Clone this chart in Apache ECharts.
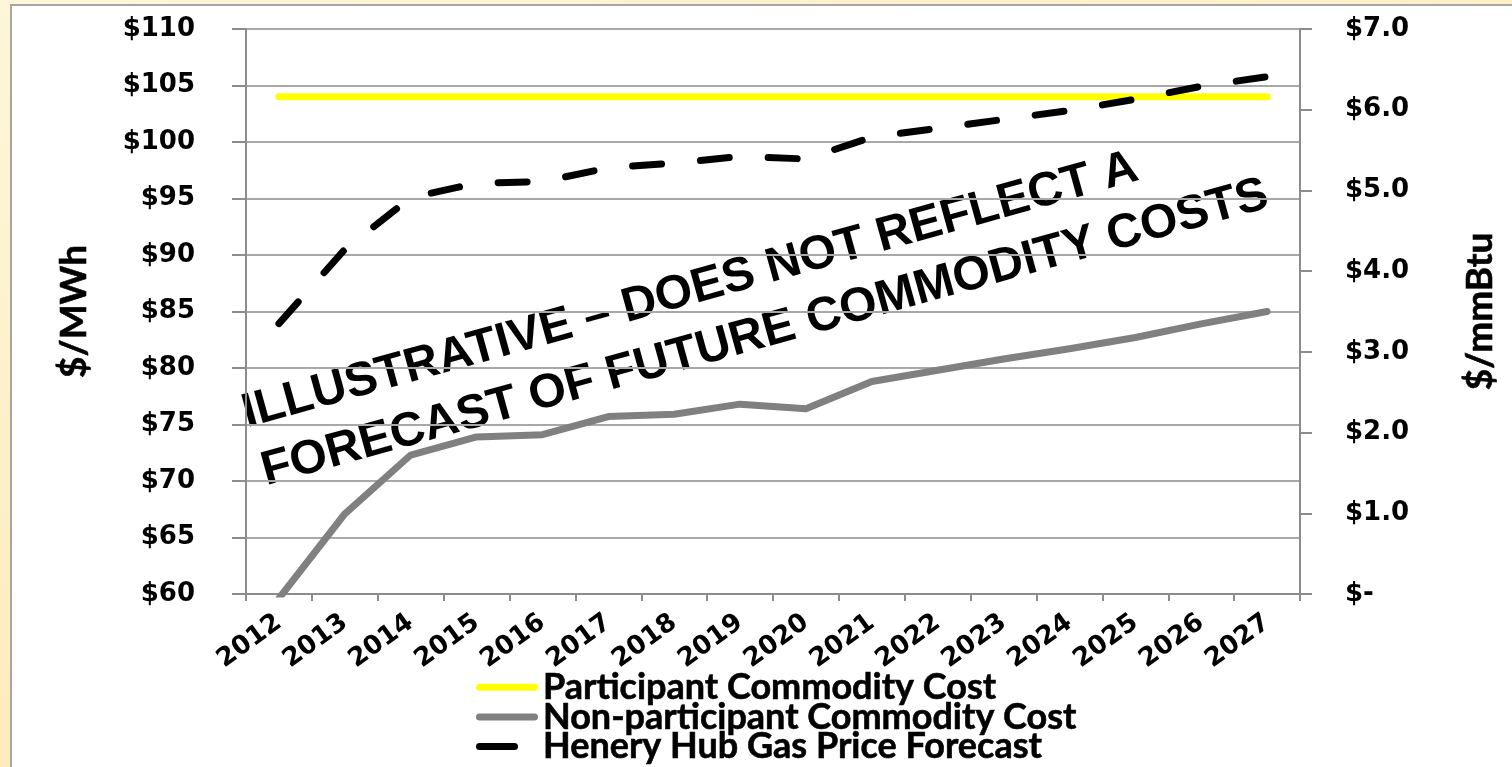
<!DOCTYPE html>
<html>
<head>
<meta charset="utf-8">
<script src="https://cdn.jsdelivr.net/npm/echarts@6/dist/echarts.min.js"></script>
<style>
html,body{margin:0;padding:0;width:1512px;height:767px;overflow:hidden;
  background:linear-gradient(160deg,#FEF6DA 0%,#FDEDC0 50%,#FBE2A2 100%);}
#panel{position:absolute;left:10px;top:4px;width:1520px;height:780px;background:#fff;border:2px solid #A6A6A6;box-sizing:border-box;}
#chart{position:absolute;left:0;top:0;width:1512px;height:767px;}
</style>
</head>
<body>
<div id="panel"></div>
<div id="chart"></div>
<script>
const years = ['2012','2013','2014','2015','2016','2017','2018','2019','2020','2021','2022','2023','2024','2025','2026','2027'];
const participantCost = [104,104,104,104,104,104,104,104,104,104,104,104,104,104,104,104];
const nonParticipantCost = [59.6,67.1,72.3,73.9,74.1,75.7,75.9,76.8,76.4,78.8,79.8,80.8,81.7,82.7,83.9,85.0];
const henryHubGas = [3.35,4.27,4.91,5.09,5.11,5.28,5.34,5.42,5.39,5.66,5.77,5.88,5.99,6.13,6.29,6.41];
const seriesNames = ['Participant Commodity Cost','Non-participant Commodity Cost','Henery Hub Gas Price Forecast'];
const leftAxisName = '$/MWh';
const rightAxisName = '$/mmBtu';
const watermarkLines = ['ILLUSTRATIVE \u2013 DOES NOT REFLECT A','FORECAST OF FUTURE COMMODITY COSTS'];

const chart = echarts.init(document.getElementById('chart'), null, {renderer:'canvas'});
const axisGray = '#8C8C8C';
const tickFont = {color:'#000', fontFamily:'DejaVu Sans', fontWeight:'bold', fontSize:26};
const nameFont = {color:'#000', fontFamily:'Lato', fontWeight:'bold', fontSize:37, textBorderColor:'#000', textBorderWidth:0.6};
const rot = 15.5*Math.PI/180;
const solidIcon = 'path://M3.5,0H58.5A3.5,3.5,0,0,1,58.5,7H3.5A3.5,3.5,0,0,1,3.5,0Z';
const dashIcon = 'path://M3.5,0H38.5A3.5,3.5,0,0,1,38.5,7H3.5A3.5,3.5,0,0,1,3.5,0ZM61.9,3.4H62V3.5H61.9Z';

chart.setOption({
  animation:false,
  backgroundColor:'transparent',
  grid:{left:246, right:212, top:29, bottom:173, containLabel:false},
  legend:{
    orient:'vertical', left:476, top:669, height:120, padding:0,
    itemWidth:62, itemHeight:7, itemGap:-7,
    data:[
      {name:seriesNames[0], icon:solidIcon},
      {name:seriesNames[1], icon:solidIcon},
      {name:seriesNames[2], icon:dashIcon}
    ],
    textStyle:{color:'#000', fontFamily:'Lato', fontWeight:'bold', fontSize:36, lineHeight:30, textBorderColor:'#000', textBorderWidth:0.6}
  },
  xAxis:{
    type:'category', data:years, boundaryGap:true,
    axisLine:{lineStyle:{color:axisGray, width:2}},
    axisTick:{show:true, length:7, lineStyle:{color:axisGray, width:2}},
    axisLabel:Object.assign({}, tickFont, {fontSize:26, rotate:36, margin:26, interval:0}),
    splitLine:{show:false}
  },
  yAxis:[{
    type:'value', min:60, max:110, interval:5, position:'left',
    name:leftAxisName, nameLocation:'middle', nameRotate:90, nameGap:153,
    nameTextStyle:nameFont,
    axisLine:{show:true, lineStyle:{color:axisGray, width:2}},
    axisTick:{show:true, length:14, lineStyle:{color:axisGray, width:2}},
    axisLabel:Object.assign({}, tickFont, {margin:51, formatter:v=>'$'+v}),
    splitLine:{show:true, lineStyle:{color:'#A8A8A8', width:2}}
  },{
    type:'value', min:0, max:7, interval:1, position:'right',
    name:rightAxisName, nameLocation:'middle', nameRotate:90, nameGap:162,
    nameTextStyle:nameFont,
    axisLine:{show:true, lineStyle:{color:axisGray, width:2}},
    axisTick:{show:true, length:12, lineStyle:{color:axisGray, width:2}},
    axisLabel:Object.assign({}, tickFont, {margin:45, formatter:v=> v===0 ? '$-' : '$'+v.toFixed(1)}),
    splitLine:{show:false}
  }],
  series:[{
    name:seriesNames[0], type:'line', data:participantCost, yAxisIndex:0,
    showSymbol:false, symbol:'none', color:'#FFFF00',
    lineStyle:{color:'#FFFF00', width:7, cap:'round', join:'round'}, z:3
  },{
    name:seriesNames[1], type:'line', data:nonParticipantCost, yAxisIndex:0,
    showSymbol:false, symbol:'none', color:'#808080', clip:true,
    lineStyle:{color:'#808080', width:7, cap:'round', join:'round'}, z:3
  },{
    name:seriesNames[2], type:'line', data:henryHubGas, yAxisIndex:1,
    showSymbol:false, symbol:'none', color:'#000000',
    lineStyle:{color:'#000000', width:7, type:[29,39], cap:'round', join:'round'}, z:4
  }],
  graphic:[{
    type:'group', x:248, y:431, rotation:rot, z:100,
    children:[{
      type:'text', x:0, y:-17,
      style:{text:watermarkLines[0], fill:'#000', font:'bold 48px "Liberation Sans", Arial, sans-serif', verticalAlign:'middle', align:'left'}
    },{
      type:'text', x:3, y:44,
      style:{text:watermarkLines[1], fill:'#000', font:'bold 48px "Liberation Sans", Arial, sans-serif', verticalAlign:'middle', align:'left'}
    }]
  }]
});
</script>
</body>
</html>
